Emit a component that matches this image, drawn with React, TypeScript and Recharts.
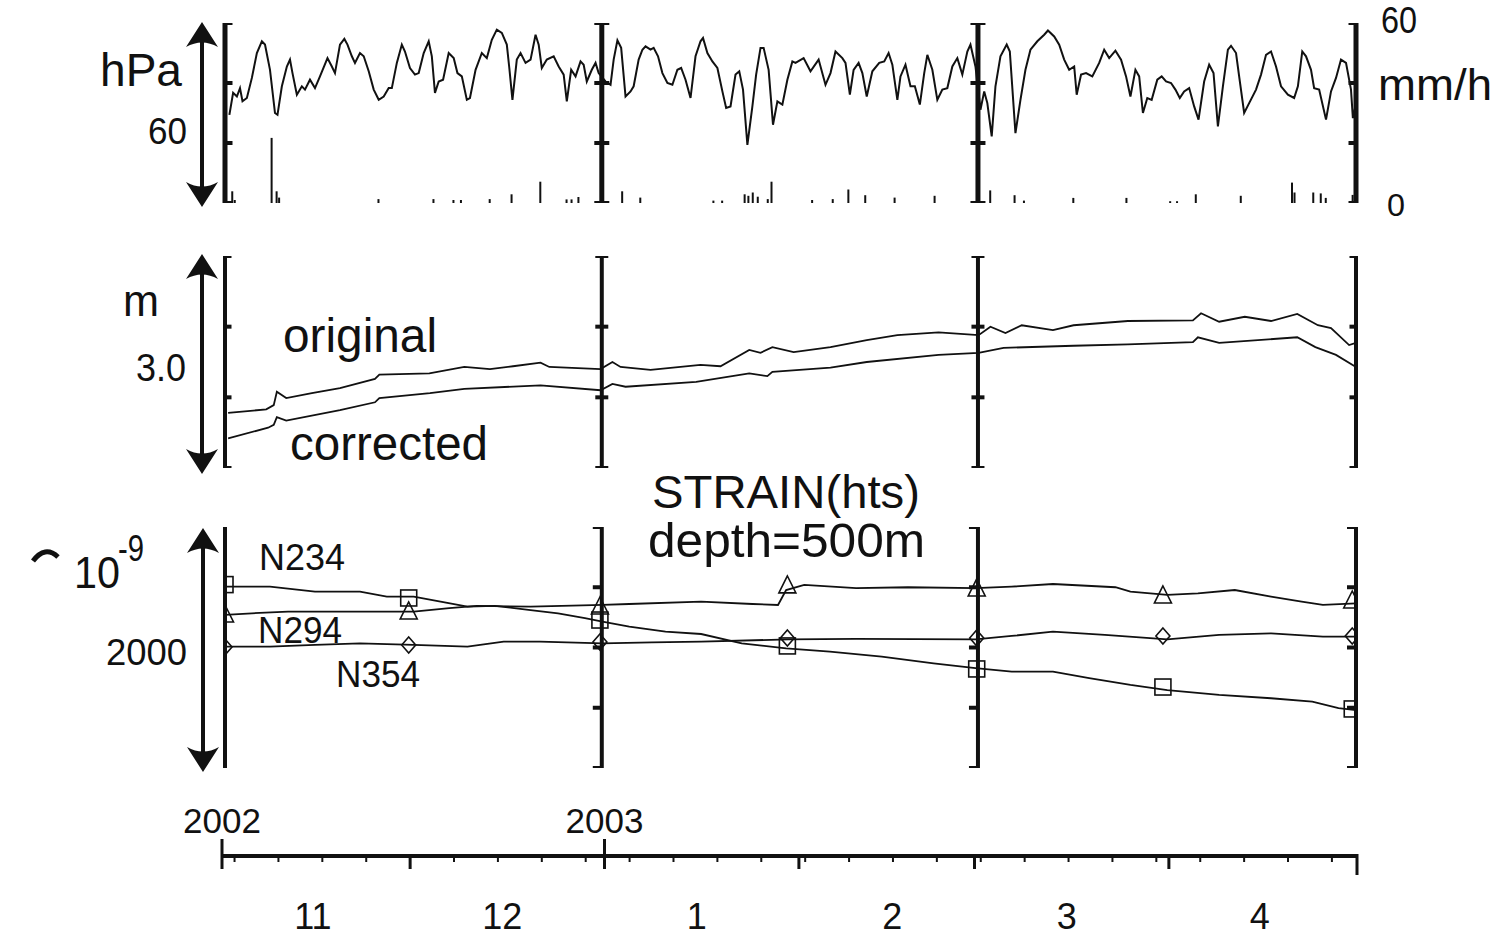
import React from "react";
import { ComposedChart, Line, Bar, Scatter, XAxis, YAxis, ReferenceLine } from "recharts";

// ---------------- DATA (day = days since 2002-11-01) ----------------
// atmospheric pressure, relative (hPa, arrow span 60 hPa)
const pressure: number[][] = [
  [0.7, 29.4], [1.3, 36.7], [1.9, 35.5], [2.4, 38.3], [2.8, 33.9], [3.5, 35.0], [4.3, 41.7], [5.1, 50.0],
  [5.9, 53.9], [6.4, 52.8], [7.2, 44.4], [8.0, 30.0], [8.4, 29.4], [9.1, 38.9], [9.9, 45.5], [10.4, 47.8],
  [10.8, 43.3], [11.5, 36.1], [12.3, 38.9], [12.8, 37.8], [13.6, 41.1], [14.4, 38.3], [15.2, 42.2], [16.4, 48.3],
  [17.1, 45.5], [17.6, 43.3], [18.4, 52.8], [19.1, 54.7], [19.6, 52.8], [20.3, 48.9], [20.8, 46.7], [21.6, 50.0],
  [22.2, 48.9], [23.0, 43.9], [23.8, 37.8], [24.6, 34.4], [25.4, 35.5], [26.2, 38.3], [26.7, 38.3], [27.5, 46.7],
  [28.3, 52.8], [28.8, 50.5], [29.6, 45.0], [30.4, 42.8], [31.0, 43.3], [31.8, 50.0], [32.6, 53.9], [33.1, 48.9],
  [33.6, 36.7], [34.2, 40.5], [34.9, 41.1], [35.8, 50.0], [36.6, 48.3], [37.2, 43.3], [37.9, 42.2], [38.7, 34.4],
  [39.2, 35.0], [40.1, 44.4], [41.1, 50.0], [41.9, 48.3], [42.7, 54.4], [43.5, 57.8], [44.3, 56.7], [45.1, 52.8],
  [45.5, 45.0], [46.0, 34.4], [46.7, 47.8], [47.3, 50.0], [48.1, 46.7], [48.9, 47.8], [49.7, 56.1], [50.2, 52.8],
  [50.7, 45.0], [51.5, 47.8], [52.6, 48.9], [53.4, 45.5], [54.2, 42.8], [54.7, 33.9], [55.4, 44.4], [56.1, 42.2],
  [56.9, 47.2], [57.4, 46.1], [57.9, 40.5], [58.7, 44.4], [59.3, 46.7], [59.8, 43.3], [60.9, 40.5], [61.7, 39.4],
  [62.2, 47.8], [62.8, 54.2], [63.4, 51.7], [64.1, 35.5], [64.9, 37.2], [65.4, 38.9], [66.2, 47.8], [66.8, 51.1],
  [67.3, 52.2], [68.1, 51.1], [68.6, 51.7], [69.3, 48.9], [70.0, 43.3], [70.8, 40.0], [71.6, 39.4], [72.4, 44.4],
  [73.0, 45.0], [73.7, 41.1], [74.5, 35.0], [75.3, 48.9], [76.1, 53.9], [76.5, 55.0], [77.2, 50.0], [78.0, 47.2],
  [78.8, 45.0], [79.6, 37.2], [80.2, 31.7], [80.9, 32.2], [81.7, 42.8], [82.3, 43.9], [82.9, 37.8], [83.6, 19.4],
  [84.4, 32.2], [85.0, 42.8], [85.7, 51.7], [86.2, 51.7], [87.0, 44.4], [87.7, 26.1], [88.4, 33.9], [89.2, 32.8],
  [90.0, 41.1], [90.8, 47.2], [91.3, 46.7], [92.6, 48.3], [93.7, 43.9], [95.0, 47.8], [96.1, 39.4], [96.9, 43.3],
  [97.7, 50.5], [98.8, 48.3], [99.3, 46.7], [100.0, 36.1], [100.6, 44.4], [101.4, 46.7], [102.0, 43.3], [102.7, 35.5],
  [103.6, 43.9], [104.7, 46.7], [105.5, 47.2], [106.2, 50.0], [106.8, 46.1], [107.6, 34.4], [108.1, 42.2], [108.9, 46.1],
  [109.7, 38.9], [110.4, 38.9], [111.2, 32.8], [111.9, 43.3], [112.4, 49.4], [113.2, 44.4], [114.0, 34.4], [114.8, 37.8],
  [115.6, 38.3], [116.4, 45.5], [117.2, 48.3], [118.0, 42.8], [118.8, 50.5], [119.3, 52.8], [120.1, 45.5], [120.9, 31.1],
  [121.5, 37.2], [122.0, 33.3], [122.7, 22.2], [123.3, 38.9], [124.1, 48.9], [125.1, 52.8], [125.6, 50.5], [126.5, 23.3],
  [127.3, 34.4], [128.1, 44.4], [128.9, 51.1], [130.0, 53.9], [131.1, 56.1], [131.7, 57.5], [132.7, 55.5], [133.5, 52.8],
  [134.3, 47.8], [135.1, 44.4], [135.9, 45.5], [136.3, 36.1], [137.0, 42.8], [137.8, 43.3], [138.8, 42.2], [139.9, 46.7],
  [140.7, 51.1], [141.5, 48.3], [142.5, 50.8], [143.4, 47.8], [144.2, 42.2], [144.9, 35.5], [145.7, 44.4], [146.3, 42.2],
  [146.9, 30.0], [147.6, 35.0], [148.3, 34.4], [149.2, 41.1], [149.9, 42.2], [150.6, 40.5], [151.4, 40.0], [152.1, 37.8],
  [152.8, 35.0], [153.5, 37.2], [154.3, 38.3], [155.1, 32.2], [155.8, 27.8], [156.7, 40.5], [157.5, 46.1], [158.2, 43.3],
  [158.9, 25.5], [159.7, 38.9], [160.5, 51.1], [161.0, 52.4], [161.8, 50.0], [162.3, 42.2], [163.1, 30.0], [163.9, 33.3],
  [165.0, 37.8], [165.8, 42.8], [166.6, 49.4], [167.4, 50.5], [168.2, 45.5], [169.0, 38.9], [170.1, 36.1], [171.1, 35.0],
  [171.7, 38.9], [172.4, 50.5], [173.0, 48.9], [173.8, 44.4], [174.3, 38.3], [175.1, 37.8], [176.2, 27.8], [177.0, 37.2],
  [177.8, 41.7], [178.6, 47.8], [179.4, 46.7], [180.2, 37.8], [180.5, 28.3], [181.0, 33.3],
];

// rainfall (mm/h)
const rainfall: number[][] = [
  [1.2, 3.9], [1.6, 1.0], [7.5, 21.7], [8.3, 3.9], [8.7, 1.8], [24.6, 1.3], [33.4, 1.3], [36.6, 1.0],
  [37.8, 1.0], [42.4, 1.3], [45.9, 2.9], [50.5, 7.1], [54.7, 1.2], [55.5, 1.2], [56.6, 2.0], [63.6, 3.9],
  [66.5, 1.8], [78.2, 0.8], [79.6, 0.8], [83.2, 2.9], [83.8, 2.4], [84.5, 3.5], [85.3, 2.1], [86.9, 1.3],
  [87.5, 7.1], [94.0, 1.0], [97.3, 1.3], [99.8, 4.5], [102.5, 2.6], [107.2, 1.8], [113.6, 2.4], [122.5, 4.2],
  [126.4, 2.6], [127.9, 0.8], [135.8, 1.7], [144.3, 1.7], [151.3, 0.6], [152.4, 0.6], [155.4, 2.9], [162.6, 2.4],
  [170.8, 6.8], [171.2, 3.5], [174.2, 3.5], [175.4, 3.2], [176.2, 1.7], [180.5, 2.7],
];

// groundwater level (m, arrow span 3.0 m)
const levelOriginal: number[][] = [
  [0.5, 0.78], [6.6, 0.83], [7.8, 0.89], [8.3, 1.08], [9.8, 0.99], [13.9, 1.06], [18.4, 1.13], [24.0, 1.26],
  [24.7, 1.32], [32.7, 1.34], [38.3, 1.43], [42.4, 1.40], [46.1, 1.44], [50.5, 1.49], [51.9, 1.43], [60.1, 1.40],
  [62.0, 1.50], [63.3, 1.43], [68.1, 1.39], [76.1, 1.46], [79.3, 1.44], [83.9, 1.67], [85.7, 1.63], [87.6, 1.71],
  [91.0, 1.64], [96.9, 1.71], [102.7, 1.81], [107.6, 1.88], [114.2, 1.92], [120.6, 1.88], [122.5, 2.00], [124.9, 1.91],
  [127.5, 2.02], [132.5, 1.95], [135.8, 2.02], [144.5, 2.08], [154.9, 2.09], [156.2, 2.19], [159.1, 2.07], [163.2, 2.14],
  [167.4, 2.08], [171.6, 2.18], [174.9, 2.02], [177.0, 1.98], [179.9, 1.74], [181.0, 1.77],
];
const levelCorrected: number[][] = [
  [0.5, 0.42], [6.9, 0.57], [7.8, 0.61], [8.3, 0.72], [9.8, 0.67], [18.4, 0.82], [24.0, 0.93], [24.7, 0.99],
  [32.8, 1.06], [38.3, 1.12], [50.5, 1.17], [60.1, 1.10], [62.0, 1.19], [64.1, 1.15], [75.4, 1.22], [83.9, 1.34],
  [86.8, 1.30], [87.6, 1.36], [96.9, 1.42], [102.7, 1.50], [114.2, 1.60], [120.6, 1.63], [124.6, 1.70], [135.8, 1.73],
  [144.5, 1.75], [154.9, 1.78], [155.7, 1.85], [159.1, 1.77], [171.6, 1.85], [174.5, 1.71], [177.8, 1.60], [181.0, 1.43],
];

// strain (1e-9, arrow span 2000)
const strainN234: number[][] = [
  [0, 1505], [7.2, 1505], [14.4, 1463], [21.6, 1463], [25.9, 1422], [30.2, 1422], [34.5, 1380], [38.8, 1339],
  [43.2, 1345], [48.9, 1311], [53.3, 1284], [57.6, 1243], [60.4, 1214], [64.7, 1173], [70.5, 1131], [76.2, 1112],
  [82.7, 1035], [89.8, 993], [96.8, 965], [105.1, 924], [113.4, 869], [120.1, 828], [125.9, 799], [132.5, 799],
  [138.3, 745], [144.9, 689], [150.8, 647], [159.1, 606], [167.4, 579], [174.0, 550], [178.2, 496], [181.0, 481],
];
const strainN294: number[][] = [
  [0, 1270], [4.3, 1284], [10.1, 1297], [18.0, 1297], [25.2, 1297], [30.2, 1297], [35.9, 1326], [40.3, 1345],
  [48.9, 1339], [53.9, 1345], [60.4, 1353], [64.7, 1361], [76.2, 1380], [84.4, 1361], [88.5, 1353], [89.8, 1477],
  [92.7, 1519], [101.0, 1492], [109.3, 1500], [120.1, 1492], [125.9, 1505], [132.5, 1527], [142.5, 1500], [144.9, 1463],
  [150.8, 1436], [155.7, 1450], [161.6, 1477], [167.4, 1422], [172.3, 1380], [175.7, 1353], [181.0, 1367],
];
const strainN354: number[][] = [
  [0, 1007], [7.2, 1007], [14.4, 1021], [21.6, 1035], [30.2, 1021], [38.8, 1007], [44.6, 1048], [50.4, 1048],
  [60.4, 1035], [68.3, 1043], [76.2, 1048], [90.2, 1068], [101.0, 1071], [120.1, 1068], [125.9, 1096], [132.5, 1131],
  [140.8, 1104], [150.8, 1068], [159.1, 1104], [167.4, 1118], [175.7, 1090], [181.0, 1090],
];
const markerDays = [0, 29.4, 60, 90, 120.3, 150.1, 180.4];
const markN234 = [1522, 1411, 1228, 1013, 822, 672, 490];
const markN294 = [1270, 1295, 1336, 1511, 1486, 1428, 1386];
const markN354 = [1004, 1021, 1046, 1079, 1079, 1096, 1096];

// frames / time axis
const bracketDays = [0, 60.3, 120.5, 181];
const topTicks = [0, 20, 40, 60];
const midTicks = [0, 1, 2, 3];
const lowTicks = [0, 500, 1000, 1500, 2000];
const monthStartDays = [0, 30, 61, 92, 120, 151, 181];
const yearDays = [0, 61];
const yearLabels = ["2002", "2003"];
const sundayDays = [2, 9, 16, 23, 30, 37, 44, 51, 58, 65, 72, 79, 86, 93, 100, 107, 114, 121, 128, 135, 142, 149, 156, 163, 170, 177];
const monthLabelDays = [14.5, 44.7, 75.7, 106.9, 134.7, 165.5];
const monthLabels = ["11", "12", "1", "2", "3", "4"];

// ---------------- LAYOUT ----------------
const W = 1509;
const H = 941;
const FONT = '"Liberation Sans", Arial, Helvetica, sans-serif';
const INK = "#111";
const LEFT = 225;
const RIGHT = 1356;
const abs: React.CSSProperties = { position: "absolute", left: 0, top: 0 };

const rows = (a: number[][]) => a.map(([d, v]) => ({ d, v }));
const marks = (vals: number[]) => markerDays.map((d, i) => ({ d, v: vals[i] }));

const serif = (w: number, sw: number) => (p: any) => (
  <line x1={p.cx - w / 2} x2={p.cx + w / 2} y1={p.cy} y2={p.cy} stroke={INK} strokeWidth={sw} />
);
const halfSerif = (p: any) => (
  <line x1={p.cx - 9} x2={p.cx + 1} y1={p.cy} y2={p.cy} stroke={INK} strokeWidth={4} />
);
const squareShape = (p: any) => (
  <rect x={p.cx - 8} y={p.cy - 8} width={16} height={16} fill="none" stroke={INK} strokeWidth={1.6} />
);
const triShape = (p: any) => (
  <polygon points={`${p.cx},${p.cy - 10} ${p.cx - 8.5},${p.cy + 7} ${p.cx + 8.5},${p.cy + 7}`} fill="none" stroke={INK} strokeWidth={1.6} />
);
const diamondShape = (p: any) => (
  <polygon points={`${p.cx},${p.cy - 8} ${p.cx + 7},${p.cy} ${p.cx},${p.cy + 8} ${p.cx - 7},${p.cy}`} fill="none" stroke={INK} strokeWidth={1.6} />
);

function frame(ticks: number[], shape: any, lw: number) {
  const tickRows = bracketDays.flatMap((d) => ticks.map((v) => ({ d, v })));
  return [
    ...bracketDays.map((d) => (
      <ReferenceLine key={"b" + d} x={d} stroke={INK} strokeWidth={lw} ifOverflow="visible" />
    )),
    <Scatter key="ticks" data={tickRows} dataKey="v" shape={shape} isAnimationActive={false} />,
  ];
}

const axes = (dom: number[]) => [
  <XAxis key="x" type="number" dataKey="d" domain={[0, 181]} hide allowDataOverflow />,
  <YAxis key="y" type="number" dataKey="v" domain={dom} hide allowDataOverflow />,
];

const TimeTick = (props: any) => {
  const { x, y, payload } = props;
  const v = payload.value;
  const yi = yearDays.indexOf(v);
  if (yi >= 0) {
    return (
      <g>
        <line x1={x} x2={x} y1={y - 17} y2={y + 13} stroke={INK} strokeWidth={3} />
        <text x={x} y={y - 23} textAnchor="middle" fontFamily={FONT} fontSize={35} fill={INK}>
          {yearLabels[yi]}
        </text>
      </g>
    );
  }
  if (monthStartDays.includes(v)) {
    const end = v === 181;
    return <line x1={x} x2={x} y1={y - (end ? 2 : 0)} y2={y + (end ? 19 : 13)} stroke={INK} strokeWidth={3} />;
  }
  if (sundayDays.includes(v)) {
    return <line x1={x} x2={x} y1={y} y2={y + 6} stroke={INK} strokeWidth={2} />;
  }
  const mi = monthLabelDays.indexOf(v);
  if (mi >= 0) {
    return (
      <text x={x} y={y + 73} textAnchor="middle" fontFamily={FONT} fontSize={36} fill={INK}>
        {monthLabels[mi]}
      </text>
    );
  }
  return <g />;
};

const timeTicks = Array.from(new Set([...monthStartDays, ...sundayDays, ...monthLabelDays])).sort((a, b) => a - b);

function Arrow({ x, y1, y2 }: { x: number; y1: number; y2: number }) {
  return (
    <g fill={INK} stroke="none">
      <line x1={x} x2={x} y1={y1 + 18} y2={y2 - 18} stroke={INK} strokeWidth={4} />
      <path d={`M${x},${y1} L${x + 16},${y1 + 25} Q${x},${y1 + 16} ${x - 16},${y1 + 25} Z`} />
      <path d={`M${x},${y2} L${x + 16},${y2 - 25} Q${x},${y2 - 16} ${x - 16},${y2 - 25} Z`} />
    </g>
  );
}

type Lbl = { t: string; x: number; y: number; s: number; w?: number };
const labels: Lbl[] = [
  { t: "hPa", x: 100, y: 86, s: 46, w: 82 },
  { t: "60", x: 148, y: 144, s: 36, w: 39 },
  { t: "60", x: 1381, y: 33, s: 36, w: 36 },
  { t: "mm/h", x: 1378, y: 100, s: 44, w: 114 },
  { t: "0", x: 1387, y: 216, s: 32, w: 18 },
  { t: "m", x: 123, y: 316, s: 44, w: 36 },
  { t: "3.0", x: 136, y: 381, s: 38, w: 50 },
  { t: "original", x: 283, y: 352, s: 48, w: 154 },
  { t: "corrected", x: 290, y: 460, s: 48, w: 198 },
  { t: "STRAIN(hts)", x: 652, y: 508, s: 47, w: 268 },
  { t: "depth=500m", x: 648, y: 557, s: 48, w: 277 },
  { t: "10", x: 74, y: 588, s: 44, w: 46 },
  { t: "-9", x: 118, y: 561, s: 36, w: 26 },
  { t: "N234", x: 259, y: 570, s: 36, w: 86 },
  { t: "N294", x: 258, y: 643, s: 36, w: 84 },
  { t: "N354", x: 336, y: 687, s: 36, w: 84 },
  { t: "2000", x: 106, y: 665, s: 36, w: 81 },
];

export default function App() {
  const mTop = { top: 23, bottom: H - 203, left: LEFT, right: W - RIGHT };
  const mMid = { top: 256, bottom: H - 468, left: LEFT, right: W - RIGHT };
  const mLow = { top: 527, bottom: H - 768, left: LEFT, right: W - RIGHT };
  return (
    <div style={{ position: "absolute", left: 0, top: 0, width: W, height: H, background: "#fff", overflow: "hidden" }}>
      {/* rainfall */}
      <ComposedChart width={W} height={H} margin={mTop} style={abs} data={rows(rainfall)}>
        {axes([0, 60])}
        <Bar dataKey="v" fill={INK} barSize={2} isAnimationActive={false} />
      </ComposedChart>
      {/* pressure */}
      <ComposedChart width={W} height={H} margin={mTop} style={abs}>
        {axes([0, 60])}
        {frame(topTicks, serif(15, 4), 5)}
        <Line data={rows(pressure)} dataKey="v" stroke={INK} strokeWidth={2} dot={false} activeDot={false} isAnimationActive={false} />
      </ComposedChart>
      {/* groundwater */}
      <ComposedChart width={W} height={H} margin={mMid} style={abs}>
        {axes([0, 3])}
        {frame(midTicks, serif(13, 4), 4)}
        <Line data={rows(levelOriginal)} dataKey="v" stroke={INK} strokeWidth={1.8} dot={false} activeDot={false} isAnimationActive={false} />
        <Line data={rows(levelCorrected)} dataKey="v" stroke={INK} strokeWidth={1.8} dot={false} activeDot={false} isAnimationActive={false} />
      </ComposedChart>
      {/* strain */}
      <ComposedChart width={W} height={H} margin={mLow} style={abs}>
        {axes([0, 2000])}
        {frame(lowTicks, halfSerif, 4)}
        <Line data={rows(strainN234)} dataKey="v" stroke={INK} strokeWidth={1.8} dot={false} activeDot={false} isAnimationActive={false} />
        <Line data={rows(strainN294)} dataKey="v" stroke={INK} strokeWidth={1.8} dot={false} activeDot={false} isAnimationActive={false} />
        <Line data={rows(strainN354)} dataKey="v" stroke={INK} strokeWidth={1.8} dot={false} activeDot={false} isAnimationActive={false} />
        <Scatter data={marks(markN234)} dataKey="v" shape={squareShape} isAnimationActive={false} />
        <Scatter data={marks(markN294)} dataKey="v" shape={triShape} isAnimationActive={false} />
        <Scatter data={marks(markN354)} dataKey="v" shape={diamondShape} isAnimationActive={false} />
      </ComposedChart>
      {/* time axis */}
      <ComposedChart width={W} height={H} margin={{ top: 800, bottom: 15, left: 222, right: W - 1357 }} style={abs} data={monthStartDays.map((d) => ({ d }))}>
        <XAxis
          type="number"
          dataKey="d"
          domain={[0, 181]}
          ticks={timeTicks}
          interval={0}
          height={70}
          tickSize={0}
          tickMargin={0}
          tick={(p: any) => <TimeTick {...p} />}
          axisLine={{ stroke: INK, strokeWidth: 4 }}
          allowDataOverflow
        />
        <YAxis hide domain={[0, 1]} />
      </ComposedChart>
      {/* labels & arrows */}
      <svg width={W} height={H} style={{ ...abs, pointerEvents: "none" }}>
        <Arrow x={202} y1={22} y2={207} />
        <Arrow x={202} y1={254} y2={474} />
        <Arrow x={203} y1={528} y2={772} />
        <path d="M33,561 Q45,545 58,557" stroke={INK} strokeWidth={5} fill="none" />
        {labels.map((l, i) => (
          <text key={i} x={l.x} y={l.y} fontFamily={FONT} fontSize={l.s} fill={INK} textLength={l.w} lengthAdjust="spacingAndGlyphs">
            {l.t}
          </text>
        ))}
      </svg>
    </div>
  );
}
